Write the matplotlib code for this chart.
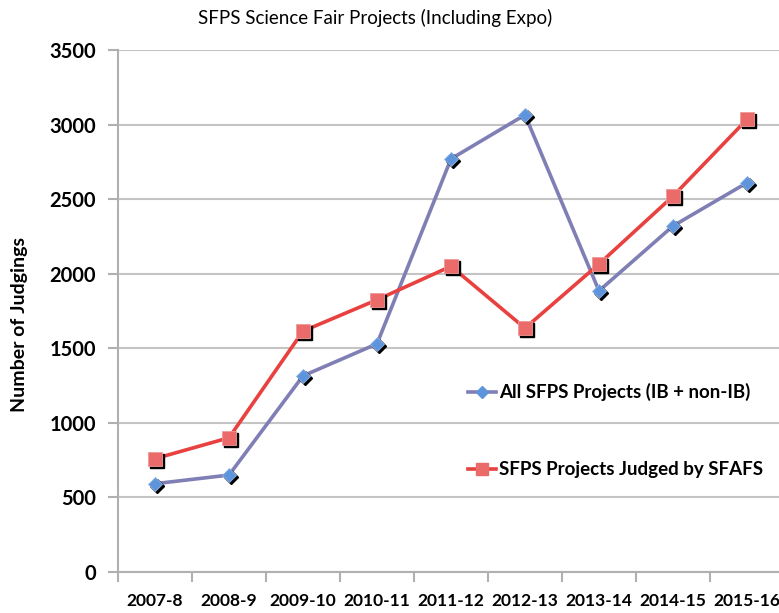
import numpy as np
import matplotlib
matplotlib.use("Agg")
import matplotlib.pyplot as plt
from matplotlib import transforms

years = ['2007-8', '2008-9', '2009-10', '2010-11', '2011-12',
         '2012-13', '2013-14', '2014-15', '2015-16']
all_projects = [592, 650, 1315, 1530, 2770, 3065, 1885, 2320, 2610]
judged_sfafs = [760, 900, 1615, 1825, 2050, 1635, 2065, 2520, 3035]

plt.rcParams['font.family'] = ['Lato', 'DejaVu Sans']

fig = plt.figure(figsize=(7.79, 6.13), dpi=100)
ax = fig.add_axes([118/779, 41/613, 666/779, 522/613])

x = np.arange(len(years))
blue_line = '#7f7fb5'
blue_mk = '#5e94dc'
red_line = '#e8413f'
red_mk = '#ea6b6a'

# drop shadows behind the markers
shadow = transforms.offset_copy(ax.transData, fig=fig, x=2, y=-2, units='dots')
ax.plot(x, all_projects, ls='none', marker='D', ms=7, color='black', transform=shadow, zorder=3)
ax.plot(x, judged_sfafs, ls='none', marker='s', ms=10, color='black', transform=shadow, zorder=3)

ax.plot(x, all_projects, color=blue_line, lw=2.6, zorder=2)
ax.plot(x, judged_sfafs, color=red_line, lw=2.6, zorder=2)
ax.plot(x, all_projects, ls='none', marker='D', ms=7, mfc=blue_mk, mec='#8fb4e8', mew=0.6, zorder=4)
ax.plot(x, judged_sfafs, ls='none', marker='s', ms=10, mfc=red_mk, mec='#f09a98', mew=0.6, zorder=4)

# legend handles
h1, = ax.plot([], [], color=blue_line, lw=2.6, marker='D', ms=6, mfc=blue_mk, mec=blue_mk)
h2, = ax.plot([], [], color=red_line, lw=2.6, marker='s', ms=8, mfc=red_mk, mec=red_mk)
leg = fig.legend([h1, h2], ['All SFPS Projects (IB + non-IB)', 'SFPS Projects Judged by SFAFS'],
                 loc='upper left', bbox_to_anchor=(468/779, 1 - 383/613), frameon=False,
                 prop={'weight': 'bold', 'size': 13.5}, handlelength=1.5, handletextpad=0.15,
                 labelspacing=3.2, borderpad=0, borderaxespad=0)

ax.set_xlim(-0.5, len(years) - 0.5)
ax.set_ylim(0, 3500)
ax.set_yticks(np.arange(0, 3501, 500))
ax.set_xticks(np.arange(len(years) + 1) - 0.5, minor=False)
ax.set_xticklabels([])
ax.set_xticks(x, minor=True)
ax.set_xticklabels(years, minor=True, fontsize=12.5, fontweight='bold')
ax.tick_params(axis='x', which='minor', length=0, pad=15)
ax.tick_params(axis='x', which='major', length=7, color='#b0b0b0', width=1.5)
ax.tick_params(axis='y', length=7, color='#b0b0b0', width=1.5, labelsize=14.5, pad=9)
for lab in ax.get_yticklabels():
    lab.set_fontweight('bold')

ax.grid(axis='y', color='#c4c4c4', lw=1.5)
ax.set_axisbelow(True)
for s in ['top', 'right']:
    ax.spines[s].set_visible(False)
for s in ['left', 'bottom']:
    ax.spines[s].set_color('#b0b0b0')
    ax.spines[s].set_linewidth(1.5)

fig.text(20/779, 1 - 325/613, 'Number of Judgings', rotation=90,
         ha='center', va='center', fontsize=14, fontweight='bold')
fig.text(375/779, 1 - 18/613, 'SFPS Science Fair Projects (Including Expo)',
         ha='center', va='center', fontsize=13.5)

fig.savefig('out.png', dpi=100)
